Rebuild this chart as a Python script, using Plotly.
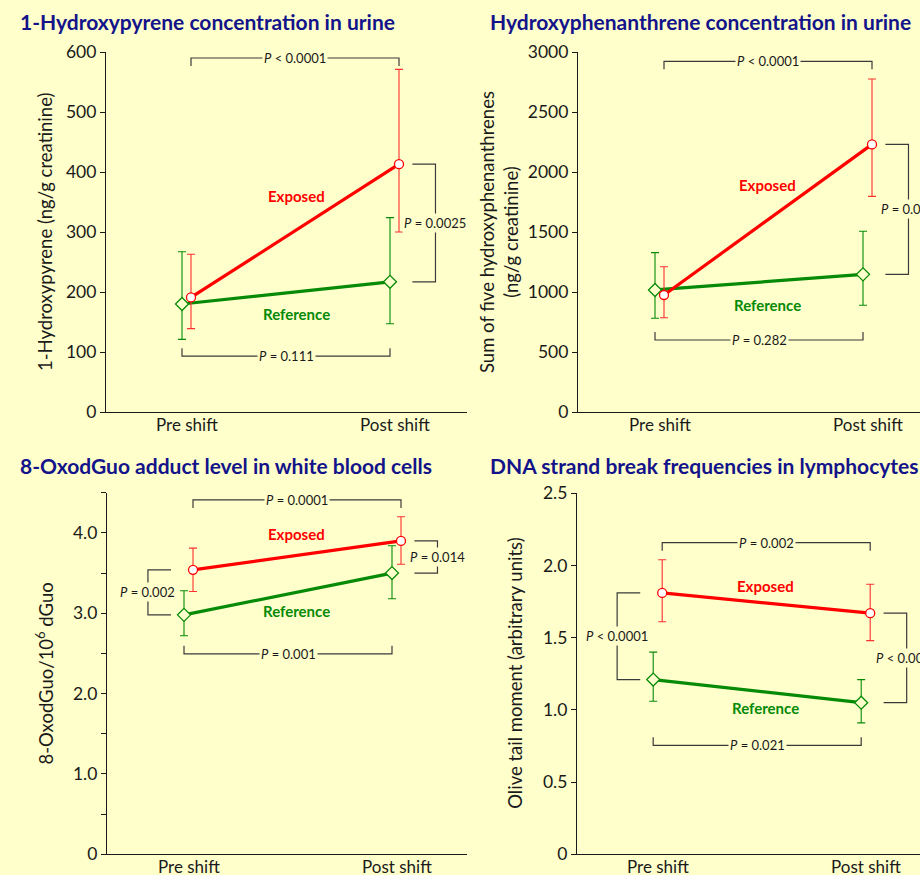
import plotly.graph_objects as go

# ---------------- data ----------------
groups = ["Pre shift", "Post shift"]

# Panel 1: 1-Hydroxypyrene (ng/g creatinine)
hp_exposed = [191, 413]
hp_exposed_lo = [139, 300]
hp_exposed_hi = [263, 571]
hp_reference = [180, 217]
hp_reference_lo = [121, 147]
hp_reference_hi = [267, 324]
hp_pvals = ["<i>P</i> &lt; 0.0001", "<i>P</i> = 0.111", None, "<i>P</i> = 0.0025"]

# Panel 2: Sum of five hydroxyphenanthrenes (ng/g creatinine)
ph_exposed = [975, 2230]
ph_exposed_lo = [786, 1797]
ph_exposed_hi = [1211, 2775]
ph_reference = [1017, 1147]
ph_reference_lo = [781, 889]
ph_reference_hi = [1328, 1506]
ph_pvals = ["<i>P</i> &lt; 0.0001", "<i>P</i> = 0.282", None, "<i>P</i> = 0.001"]

# Panel 3: 8-OxodGuo / 10^6 dGuo
ox_exposed = [3.54, 3.90]
ox_exposed_lo = [3.27, 3.61]
ox_exposed_hi = [3.81, 4.20]
ox_reference = [2.98, 3.50]
ox_reference_lo = [2.72, 3.18]
ox_reference_hi = [3.28, 3.84]
ox_pvals = ["<i>P</i> = 0.0001", "<i>P</i> = 0.001", "<i>P</i> = 0.002", "<i>P</i> = 0.014"]

# Panel 4: Olive tail moment (arbitrary units)
ol_exposed = [1.81, 1.67]
ol_exposed_lo = [1.61, 1.48]
ol_exposed_hi = [2.04, 1.87]
ol_reference = [1.21, 1.05]
ol_reference_lo = [1.06, 0.91]
ol_reference_hi = [1.40, 1.21]
ol_pvals = ["<i>P</i> = 0.002", "<i>P</i> = 0.021", "<i>P</i> &lt; 0.0001", "<i>P</i> &lt; 0.0001"]

titles = ["1-Hydroxypyrene concentration in urine",
          "Hydroxyphenanthrene concentration in urine",
          "8-OxodGuo adduct level in white blood cells",
          "DNA strand break frequencies in lymphocytes"]
ytitles = ["1-Hydroxypyrene (ng/g creatinine)",
           "Sum of five hydroxyphenanthrenes<br>(ng/g creatinine)",
           "8-OxodGuo/10<sup>6</sup> dGuo",
           "Olive tail moment (arbitrary units)"]

# ---------------- style / layout ----------------
W, H = 920, 875
BG = "#FFFFCC"
NAVY = "#13138A"
RED = "#FF0000"
GREEN = "#078A07"
INK = "#1A1A1A"
BR = "#3A3A3A"
FONT = "Lato"
PPU_X = 208.0
OFF = 4.5 / PPU_X

panels = [
    dict(data=(hp_exposed, hp_exposed_lo, hp_exposed_hi, hp_reference, hp_reference_lo, hp_reference_hi),
         pv=hp_pvals, xpx=(106, 467), pre=186.5, ypx=(52, 412), yr=600, xlab_y=424,
         tickvals=[0, 100, 200, 300, 400, 500, 600], ticktext=None,
         top=590, bot=93, title_xy=(18, 22), ytitle_x=45,
         lab=((0.53, 360), (0.53, 163))),
    dict(data=(ph_exposed, ph_exposed_lo, ph_exposed_hi, ph_reference, ph_reference_lo, ph_reference_hi),
         pv=ph_pvals, xpx=(578, 920), pre=659.5, ypx=(52, 412), yr=3000, xlab_y=424,
         tickvals=[0, 500, 1000, 1500, 2000, 2500, 3000], ticktext=None,
         top=2922, bot=600, title_xy=(488, 22), ytitle_x=499,
         lab=((0.52, 1892), (0.52, 889))),
    dict(data=(ox_exposed, ox_exposed_lo, ox_exposed_hi, ox_reference, ox_reference_lo, ox_reference_hi),
         pv=ox_pvals, xpx=(107, 467), pre=188.5, ypx=(492.7, 854.3), yr=4.5, xlab_y=866,
         tickvals=[0, 0.5, 1, 1.5, 2, 2.5, 3, 3.5, 4, 4.5],
         ticktext=["0", "", "1.0", "", "2.0", "", "3.0", "", "4.0", ""],
         top=4.41, bot=2.495, title_xy=(18, 465), ytitle_x=45,
         lab=((0.52, 3.98), (0.52, 3.026))),
    dict(data=(ol_exposed, ol_exposed_lo, ol_exposed_hi, ol_reference, ol_reference_lo, ol_reference_hi),
         pv=ol_pvals, xpx=(577, 920), pre=657.7, ypx=(493.3, 854.3), yr=2.5, xlab_y=866,
         tickvals=[0, 0.5, 1, 1.5, 2, 2.5],
         ticktext=["0", "0.5", "1.0", "1.5", "2.0", "2.5"],
         top=2.158, bot=0.755, title_xy=(488, 465), ytitle_x=515,
         lab=((0.52, 1.858), (0.52, 1.013))),
]

fig = go.Figure()
shapes = []
annotations = []

for i, p in enumerate(panels, start=1):
    xa = "x" if i == 1 else f"x{i}"
    ya = "y" if i == 1 else f"y{i}"
    exp, exp_lo, exp_hi, ref, ref_lo, ref_hi = p["data"]
    x0px, x1px = p["xpx"]
    ytop, ybot = p["ypx"]
    ppu_y = (ybot - ytop) / p["yr"]

    xrange_ = [(x0px - p["pre"]) / PPU_X, (x1px - p["pre"]) / PPU_X]
    xkey = "xaxis" if i == 1 else f"xaxis{i}"
    ykey = "yaxis" if i == 1 else f"yaxis{i}"
    fig.layout[xkey] = dict(
        domain=[x0px / W, min(x1px / W, 1.0)], range=xrange_, anchor=ya, automargin=False,
        showline=True, linecolor=INK, linewidth=1.2, ticks="", showgrid=False,
        zeroline=False, showticklabels=False, fixedrange=True)
    fig.layout[ykey] = dict(
        domain=[1 - ybot / H, 1 - ytop / H], range=[0, p["yr"]], anchor=xa, automargin=False,
        showline=True, linecolor=INK, linewidth=1.2, ticks="outside", ticklen=5,
        tickwidth=1.2, tickcolor=INK, showgrid=False, zeroline=False,
        tickvals=p["tickvals"],
        ticktext=p["ticktext"] if p["ticktext"] else [str(v) for v in p["tickvals"]],
        tickfont=dict(family=FONT, size=17.5, color=INK), fixedrange=True)

    xs = [0, 1]
    # category labels under the x axis
    for xv, g in zip(xs, groups):
        annotations.append(dict(x=xv, y=1 - p["xlab_y"] / H, xref=xa, yref="paper", text=g,
                                showarrow=False, xanchor="center", yanchor="middle",
                                font=dict(family=FONT, size=17, color=INK)))

    # Reference series
    fig.add_trace(go.Scatter(
        x=[v - OFF for v in xs], y=ref, xaxis=xa, yaxis=ya, mode="lines+markers",
        line=dict(color=GREEN, width=3.2),
        marker=dict(symbol="diamond", size=10, color=BG, line=dict(color=GREEN, width=1.3)),
        error_y=dict(type="data", symmetric=False,
                     array=[h - m for h, m in zip(ref_hi, ref)],
                     arrayminus=[m - l for m, l in zip(ref, ref_lo)],
                     color=GREEN, thickness=1.1, width=4),
        showlegend=False, hoverinfo="skip"))
    # Exposed series
    fig.add_trace(go.Scatter(
        x=[v + OFF for v in xs], y=exp, xaxis=xa, yaxis=ya, mode="lines+markers",
        line=dict(color=RED, width=3.2),
        marker=dict(symbol="circle", size=9, color="white", line=dict(color=RED, width=1.3)),
        error_y=dict(type="data", symmetric=False,
                     array=[h - m for h, m in zip(exp_hi, exp)],
                     arrayminus=[m - l for m, l in zip(exp, exp_lo)],
                     color="#FF3030", thickness=1.1, width=4),
        showlegend=False, hoverinfo="skip"))

    tick = 8 / ppu_y
    pv_time_exp, pv_time_ref, pv_pre, pv_post = p["pv"]
    pfont = dict(family=FONT, size=13, color=INK)
    # top bracket: exposed pre vs post
    yl = p["top"]
    shapes.append(dict(type="path", xref=xa, yref=ya,
                       path=f"M {OFF},{yl - tick} L {OFF},{yl} L {1 + OFF},{yl} L {1 + OFF},{yl - tick}",
                       line=dict(color=BR, width=1.2)))
    annotations.append(dict(x=0.5 + OFF, y=yl, xref=xa, yref=ya, text=pv_time_exp, showarrow=False,
                            bgcolor=BG, borderpad=1, font=pfont))
    # bottom bracket: reference pre vs post
    yl = p["bot"]
    shapes.append(dict(type="path", xref=xa, yref=ya,
                       path=f"M {-OFF},{yl + tick} L {-OFF},{yl} L {1 - OFF},{yl} L {1 - OFF},{yl + tick}",
                       line=dict(color=BR, width=1.2)))
    annotations.append(dict(x=0.5 - OFF, y=yl, xref=xa, yref=ya, text=pv_time_ref, showarrow=False,
                            bgcolor=BG, borderpad=1, font=pfont))
    # side brackets: exposed vs reference
    if pv_pre:
        a0, a1 = -0.084, -0.195
        y1, y2 = exp[0], ref[0]
        shapes.append(dict(type="path", xref=xa, yref=ya,
                           path=f"M {a0},{y1} L {a1},{y1} L {a1},{y2} L {a0},{y2}",
                           line=dict(color=BR, width=1.2)))
        annotations.append(dict(x=a1, y=(y1 + y2) / 2, xref=xa, yref=ya, text=pv_pre, showarrow=False,
                                bgcolor=BG, borderpad=1, font=pfont))
    if pv_post:
        a0, a1 = 1.086, 1.197
        y1, y2 = exp[1], ref[1]
        shapes.append(dict(type="path", xref=xa, yref=ya,
                           path=f"M {a0},{y1} L {a1},{y1} L {a1},{y2} L {a0},{y2}",
                           line=dict(color=BR, width=1.2)))
        annotations.append(dict(x=a1, y=(y1 + y2) / 2, xref=xa, yref=ya, text=pv_post, showarrow=False,
                                bgcolor=BG, borderpad=1, font=pfont))

    # series labels
    (ex_x, ex_y), (rf_x, rf_y) = p["lab"]
    annotations.append(dict(x=ex_x, y=ex_y, xref=xa, yref=ya, text="<b>Exposed</b>", showarrow=False,
                            font=dict(family=FONT, size=15, color=RED)))
    annotations.append(dict(x=rf_x, y=rf_y, xref=xa, yref=ya, text="<b>Reference</b>", showarrow=False,
                            font=dict(family=FONT, size=15, color=GREEN)))

    # panel title
    tx, ty = p["title_xy"]
    annotations.append(dict(x=tx / W, y=1 - ty / H, xref="paper", yref="paper", xanchor="left",
                            yanchor="middle", text=f"<b>{titles[i - 1]}</b>", showarrow=False,
                            font=dict(family=FONT, size=21, color=NAVY)))
    # y-axis title
    annotations.append(dict(x=p["ytitle_x"] / W, y=1 - ((ytop + ybot) / 2) / H, xref="paper", yref="paper",
                            xanchor="center", yanchor="middle", textangle=-90, text=ytitles[i - 1],
                            showarrow=False, font=dict(family=FONT, size=18.5, color=INK)))

fig.update_layout(
    width=W, height=H, margin=dict(l=0, r=0, t=0, b=0, pad=0, autoexpand=False),
    paper_bgcolor=BG, plot_bgcolor=BG, shapes=shapes, annotations=annotations,
    showlegend=False)

fig.write_html("out.html", config={"displayModeBar": False},
               post_script="document.body.style.margin='0';document.body.style.overflow='hidden';"
                           "document.body.style.background='" + BG + "';")
